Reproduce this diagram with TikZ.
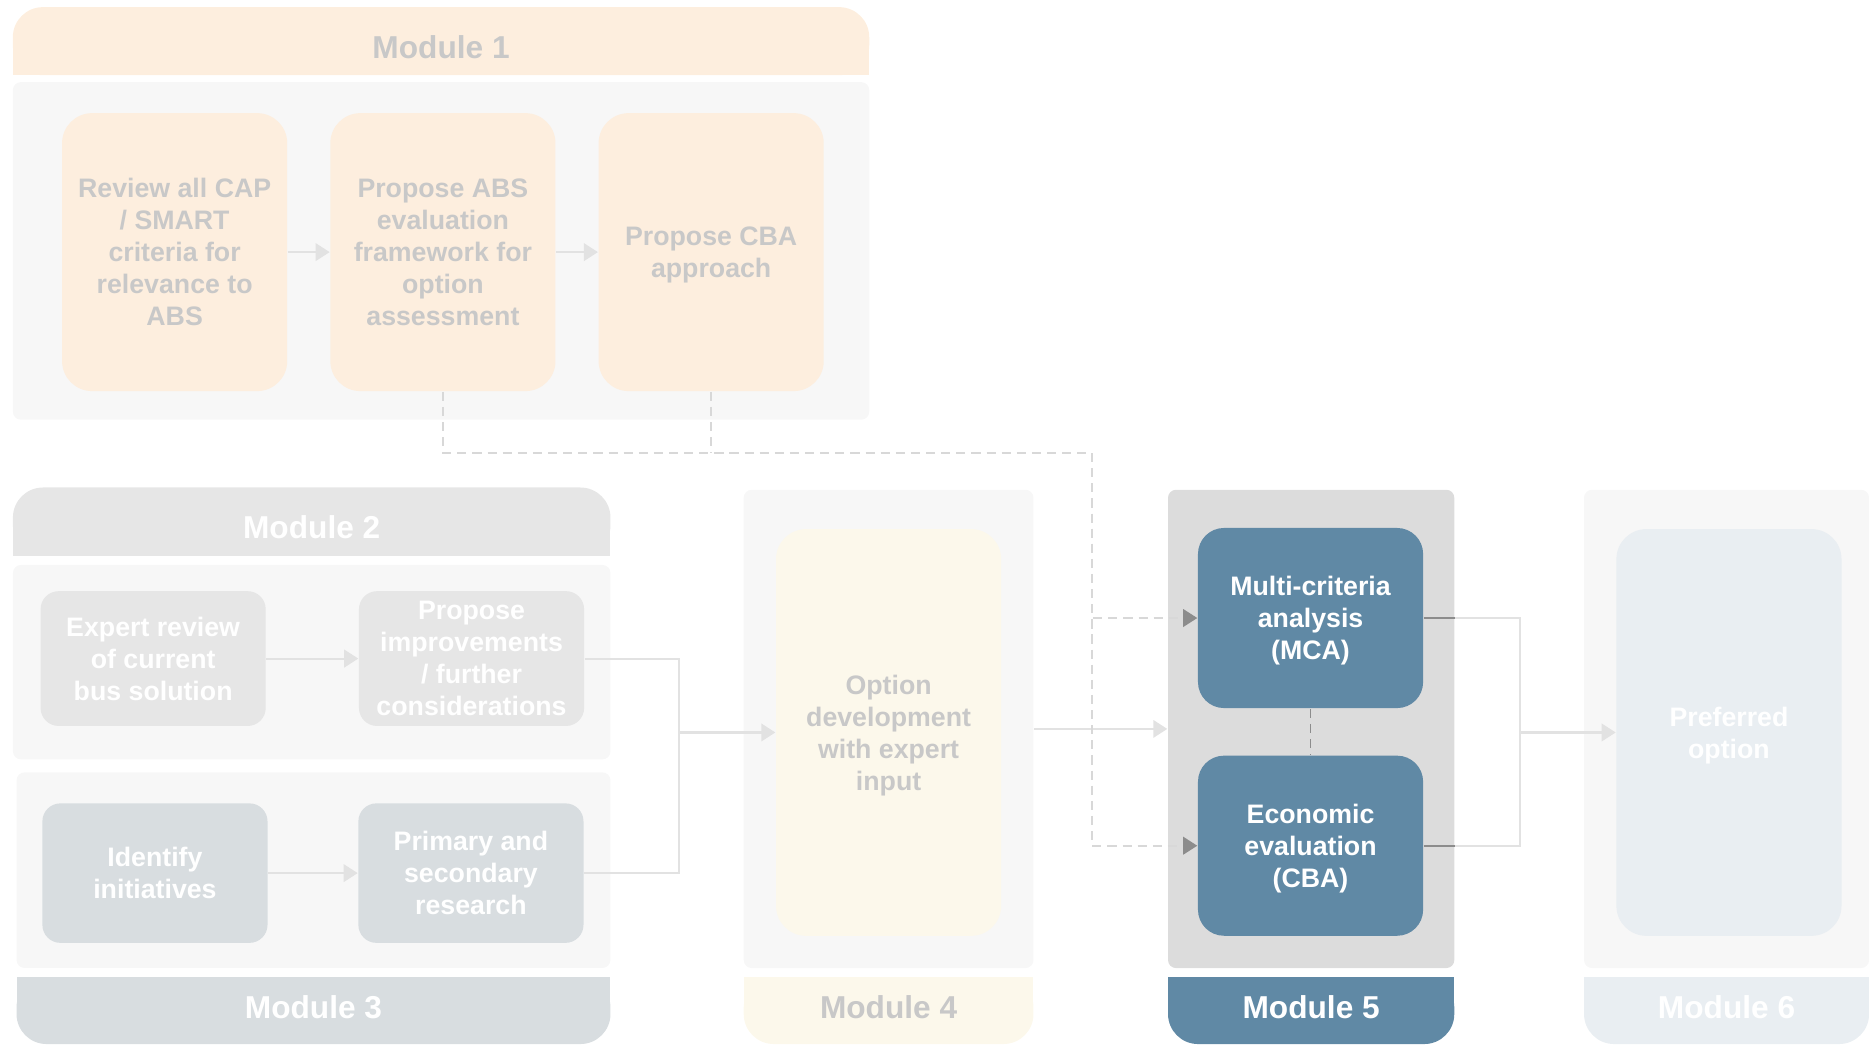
\documentclass[tikz,border=0pt]{standalone}
\usepackage{fontspec}
\setmainfont{Liberation Sans}
\usepackage{tikz}
\usetikzlibrary{positioning,arrows.meta}
\definecolor{mypeach}{RGB}{253,238,222}
\definecolor{mybody}{RGB}{247,247,247}
\definecolor{mylgrey}{RGB}{230,230,230}
\definecolor{myslate}{RGB}{216,221,224}
\definecolor{mycream}{RGB}{252,248,235}
\definecolor{mymgrey}{RGB}{220,220,220}
\definecolor{myblue}{RGB}{96,137,165}
\definecolor{mypale}{RGB}{233,238,242}
\definecolor{mytext}{RGB}{200,200,200}
\definecolor{myline}{RGB}{226,226,226}
\definecolor{mydash}{RGB}{216,216,216}
\definecolor{mydark}{RGB}{140,140,140}

\begin{document}
\begin{tikzpicture}[x=0.01cm, y=-0.01cm,
        body/.style={fill=mybody, rounded corners=0.08cm, inner sep=0pt},
        mhead/.style={rounded corners=0.3cm, minimum height=0.68cm,
                      inner sep=0pt, text=white, text height=9.6pt, text depth=0pt,
                      font=\fontsize{9}{11}\selectfont\bfseries},
        mfoot/.style={mhead, minimum height=0.666cm, text height=6.6pt, text depth=2pt},
        tbox/.style={rounded corners=0.3cm, minimum width=2.25cm,
                     inner sep=0pt, align=center, text=white, text depth=-0.4pt,
                     font=\fontsize{7.6}{9.1}\selectfont\bfseries},
        ln/.style={myline, line width=0.6pt},
        arr/.style={ln, -{Triangle[length=4pt, width=5pt]}},
        dsh/.style={mydash, line width=0.5pt, dash pattern=on 2.6pt off 1.7pt},
        darr/.style={dsh, -{Triangle[length=4pt, width=5pt, color=mydark]}}
      ]
        \useasboundingbox (0,0) rectangle (1869,1044);

        % module bodies
        \node[body, minimum width=8.559cm, minimum height=3.374cm] (m1) at (441.05,250.9) {};
        \node[body, minimum width=5.972cm, minimum height=1.943cm] (m2) at (311.7,662.15) {};
        \node[body, minimum width=5.936cm, minimum height=1.955cm] (m3) at (313.5,870.15) {};
        \node[body, minimum width=2.896cm, minimum height=4.78cm] (m4) at (888.6,728.9) {};
        \node[body, fill=mymgrey, minimum width=2.861cm, minimum height=4.78cm] (m5) at (1311.15,728.9) {};
        \node[body, minimum width=2.849cm, minimum height=4.78cm] (m6) at (1726.55,728.9) {};

        % headers and footers
        \fill[mypeach] (13.1,40) rectangle (869,75.1);
        \node[mhead, fill=mypeach, text=mytext, minimum width=8.559cm] (h1) at (441.05,41.15) {Module 1};
        \fill[mylgrey] (13.1,520) rectangle (610.3,555.5);
        \node[mhead, fill=mylgrey, minimum width=5.972cm] (h2) at (311.7,521.5) {Module 2};
        \fill[myslate] (16.7,977.4) rectangle (610.3,1012);
        \node[mfoot, fill=myslate, minimum width=5.936cm] (h3) at (313.5,1010.7) {Module 3};
        \fill[mycream] (743.8,977.4) rectangle (1033.4,1012);
        \node[mfoot, fill=mycream, text=mytext, minimum width=2.896cm] (h4) at (888.6,1010.7) {Module 4};
        \fill[myblue] (1168.1,977.4) rectangle (1454.2,1012);
        \node[mfoot, fill=myblue, minimum width=2.861cm] (h5) at (1311.15,1010.7) {Module 5};
        \fill[mypale] (1584.1,977.4) rectangle (1869,1012);
        \node[mfoot, fill=mypale, minimum width=2.849cm] (h6) at (1726.55,1010.7) {Module 6};

        % module 1
        \node[tbox, fill=mypeach, text=mytext, minimum height=2.778cm] (a1) at (174.65,252.1)
              {Review all CAP\\/ SMART\\criteria for\\relevance to\\ABS};
        \node[tbox, fill=mypeach, text=mytext, minimum height=2.778cm, right=0.417cm of a1] (a2)
              {Propose ABS\\evaluation\\framework for\\option\\assessment};
        \node[tbox, fill=mypeach, text=mytext, minimum height=2.778cm, right=0.417cm of a2] (a3)
              {Propose CBA\\approach};

        % modules 2 and 3
        \node[tbox, fill=mylgrey, rounded corners=0.18cm, minimum height=1.347cm] (b1) at (153.15,658.55)
              {Expert review\\of current\\bus solution};
        \node[tbox, fill=mylgrey, rounded corners=0.18cm, minimum height=1.347cm, right=0.918cm of b1] (b2)
              {Propose\\improvements\\/ further\\considerations};
        \node[tbox, fill=myslate, rounded corners=0.18cm, minimum height=1.394cm] (c1) at (154.95,873.1)
              {Identify\\initiatives};
        \node[tbox, fill=myslate, rounded corners=0.18cm, minimum height=1.394cm, right=0.894cm of c1] (c2)
              {Primary and\\secondary\\research};

        % modules 4, 5, 6
        \node[tbox, fill=mycream, text=mytext, minimum height=4.065cm] (d) at (888.6,732.45)
              {Option\\development\\with expert\\input};
        \node[tbox, fill=myblue, rounded corners=0.26cm, minimum height=1.8cm] (e1) at (1310.55,618)
              {Multi-criteria\\analysis\\(MCA)};
        \node[tbox, fill=myblue, rounded corners=0.26cm, minimum height=1.8cm] (e2) at (1310.55,845.7)
              {Economic\\evaluation\\(CBA)};
        \node[tbox, fill=mypale, minimum height=4.065cm] (f) at (1728.95,732.45)
              {Preferred\\option};

        \coordinate (j1) at (679.4,732.45);
        \coordinate (j2) at (1519.7,732.45);
        \coordinate (j3) at (1091.8,453);

        \draw[arr] (a1) -- (a2); \draw[arr] (a2) -- (a3);
        \draw[arr] (b1) -- (b2); \draw[arr] (c1) -- (c2);
        \draw[ln] (b2.east) -| (j1); \draw[ln] (c2.east) -| (j1);
        \draw[arr] (j1) -- (d.west);
        \draw[arr] (m4.east) -- (m5.west);
        \draw[ln] (e1.east) -| (j2); \draw[ln] (e2.east) -| (j2);
        \draw[mydark, line width=0.6pt] (e1.east) -- (e1.east -| m5.east);
        \draw[mydark, line width=0.6pt] (e2.east) -- (e2.east -| m5.east);
        \draw[arr] (j2) -- (f.west);

        % dashed links
        \draw[dsh] (a2.south) |- (j3);
        \draw[dsh] (a3.south) -- (a3.south |- j3);
        \draw[darr] (j3) |- (e1.west);
        \draw[darr] (j3) |- (e2.west);
        \draw[dsh, mydark] (e1.south) -- (e2.north);
      \end{tikzpicture}
\end{document}
